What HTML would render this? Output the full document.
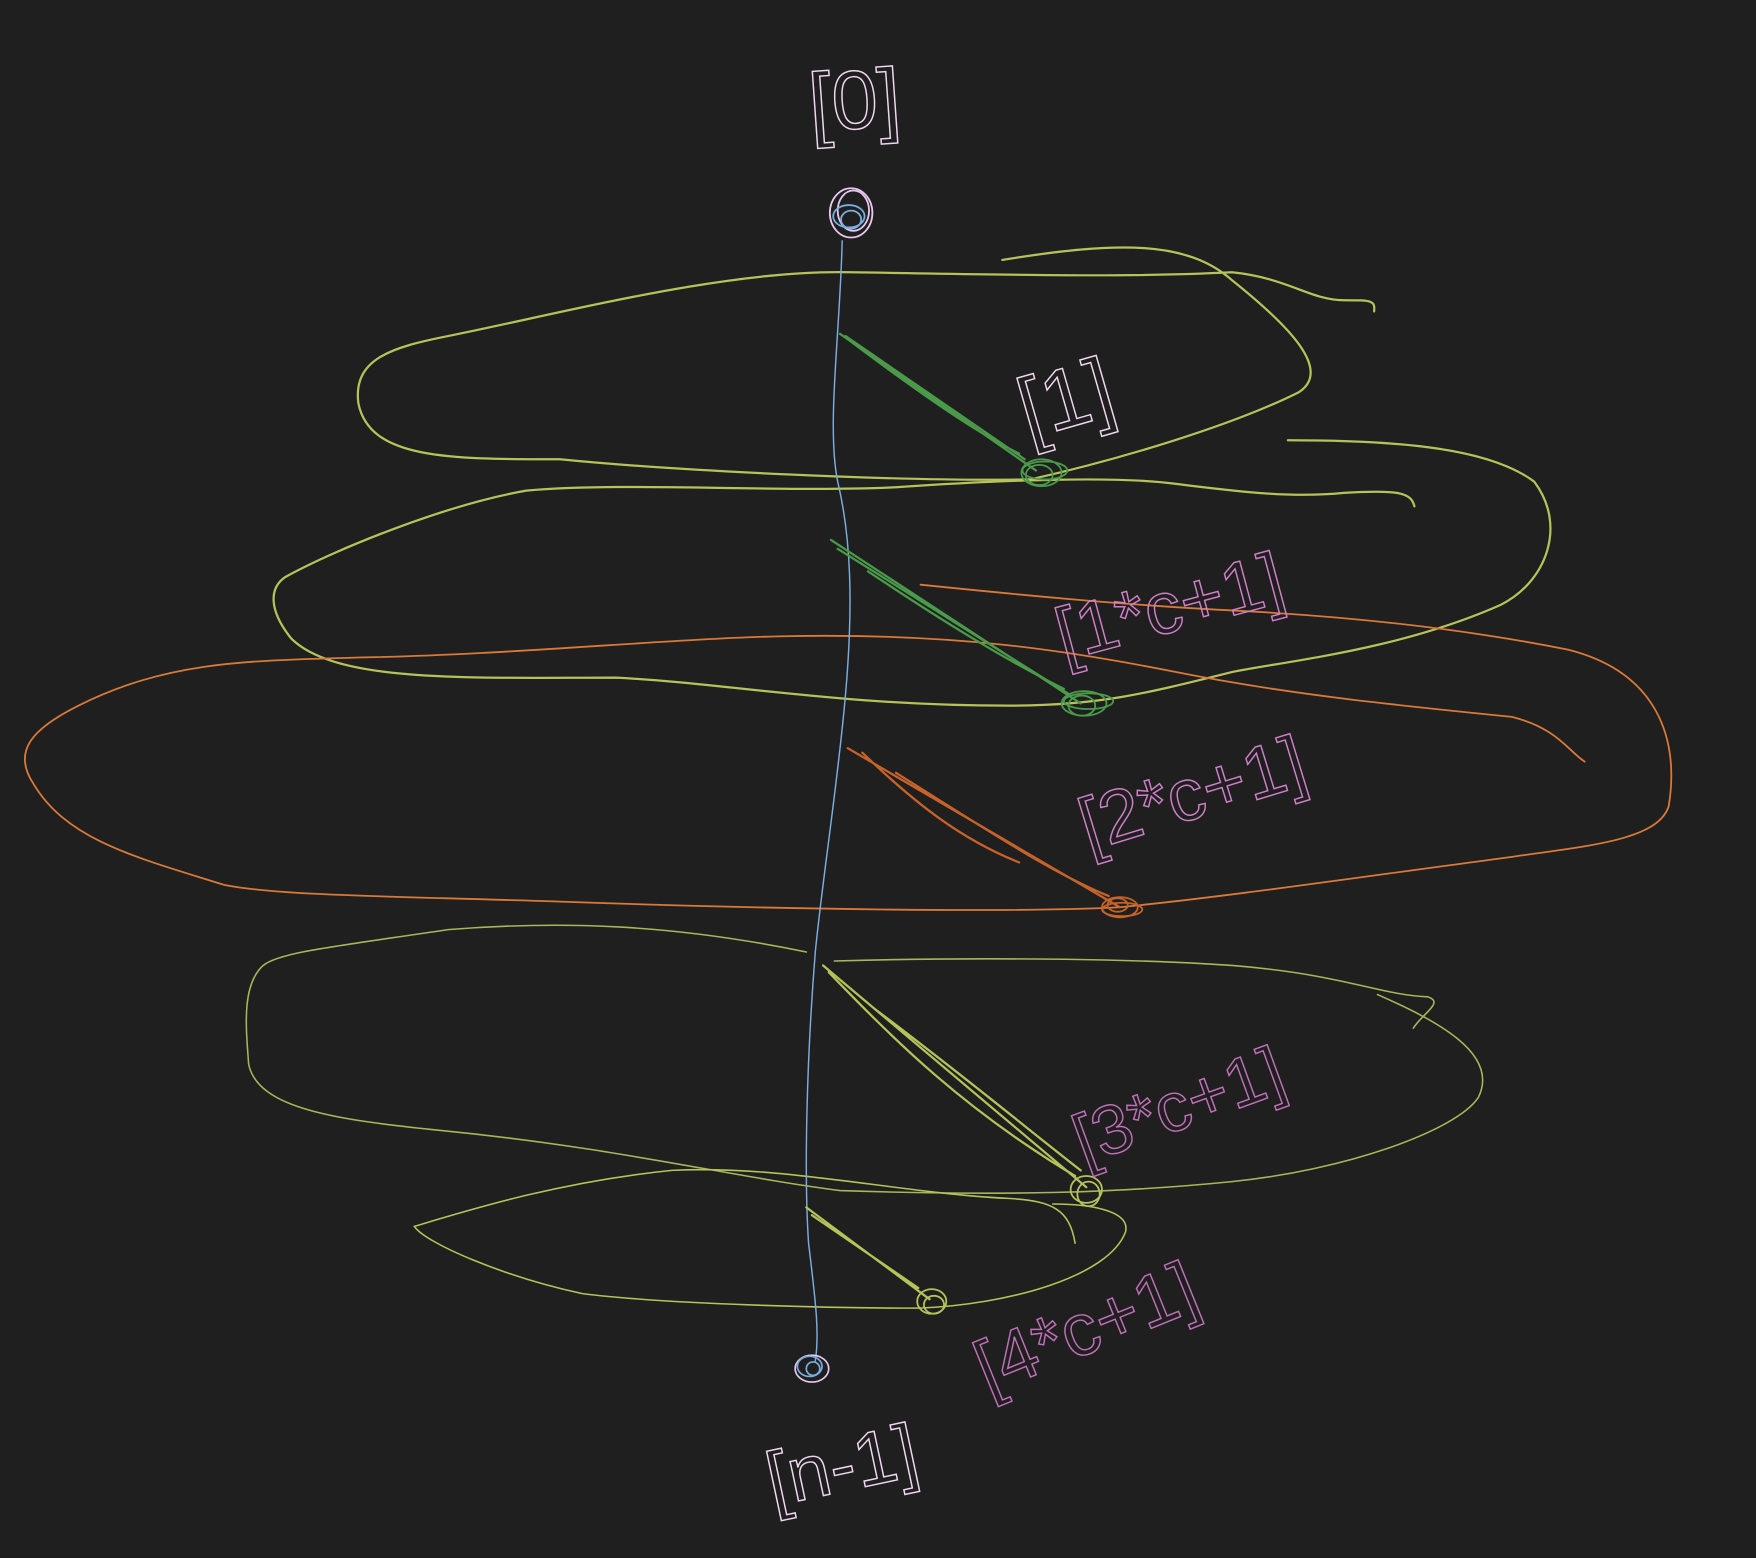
<!DOCTYPE html>
<html><head><meta charset="utf-8"><style>
html,body{margin:0;padding:0;background:#1f1f1f;}
svg{display:block}
.lbl{font-family:"Liberation Sans",sans-serif;font-weight:300;fill:none;stroke-width:1.3}
</style></head><body>
<svg width="1756" height="1558" viewBox="0 0 1568 1391" xmlns="http://www.w3.org/2000/svg">
<rect width="1568" height="1391" fill="#1f1f1f"/>
<g fill="none" stroke-linecap="round">
<path stroke="#b5c35a" stroke-width="2" d="M895,232 C1000,215 1060,215 1100,250 C1150,290 1190,330 1160,350 C1100,380 1000,410 920,428 C800,430 600,420 500,410 C400,410 330,410 320,360 C315,320 350,310 400,300 C500,280 650,240 760,243 C900,245 1000,248 1100,243 C1150,248 1170,268 1200,268 C1225,268 1228,268 1227,278"/>
<path stroke="#b5c35a" stroke-width="2" d="M1150,393 C1250,393 1330,400 1370,430 C1400,470 1380,520 1340,540 C1250,580 1150,590 1100,600 C1020,620 980,630 900,630 C750,630 650,610 550,605 C420,605 300,610 260,570 C240,545 240,525 255,515 C300,490 400,450 470,438 C560,430 700,440 800,435 C900,428 1000,425 1050,432 C1100,438 1150,445 1200,440 C1250,437 1260,440 1263,452"/>
<path stroke="#d9793a" stroke-width="1.6" d="M822,522 C900,530 1000,540 1100,545 C1200,550 1300,560 1400,580 C1480,600 1500,660 1490,720 C1480,750 1420,755 1350,765 C1200,785 1100,800 1000,810 C900,815 700,812 500,805 C350,800 250,800 200,790 C120,765 60,750 30,700 C10,670 30,650 70,630 C150,590 220,590 320,587 C450,585 600,570 700,568 C850,565 950,580 1050,600 C1150,620 1250,630 1350,640 C1390,650 1400,670 1415,680"/>
<path stroke="#a9b55a" stroke-width="1.4" d="M745,858 C850,855 1000,855 1100,862 C1200,870 1230,888 1275,890 C1290,895 1270,905 1262,918 M720,850 C600,825 500,822 400,830 C300,845 250,850 235,862 C215,880 220,920 222,950 C230,990 300,1000 400,1010 C550,1025 650,1050 750,1063 C900,1068 1000,1065 1100,1055 C1200,1045 1300,1010 1320,980 C1340,940 1280,910 1230,888"/>
<path stroke="#b5c35a" stroke-width="1.4" d="M960,1110 C955,1080 940,1072 900,1070 C800,1065 700,1040 600,1045 C500,1055 420,1080 370,1095 C380,1110 450,1140 520,1155 C600,1165 750,1168 820,1168 C900,1165 990,1140 1005,1100 C1010,1080 970,1075 940,1075"/>
<path stroke="#7aaee0" stroke-width="1.3" d="M752,215 C750,300 738,380 748,430 C760,480 762,540 755,620 C748,700 735,780 728,850 C720,950 718,1050 722,1110 C728,1160 732,1190 728,1215"/>
<path stroke="#4a9a4a" stroke-width="2" d="M750,298 L925,420 M755,300 L915,410 M760,305 C820,350 870,385 910,405"/>
<path stroke="#4a9a4a" stroke-width="2" d="M742,482 L965,628 M748,490 L955,620 M775,510 C850,560 900,590 950,615"/>
<path stroke="#c7632a" stroke-width="2" d="M757,668 L1000,810 M770,672 C820,720 860,750 910,770 M800,690 C880,740 940,780 990,800"/>
<path stroke="#b5c35a" stroke-width="2" d="M735,862 L970,1060 M740,868 C800,930 860,990 960,1050 M780,900 C860,960 920,1010 965,1045"/>
<path stroke="#b5c35a" stroke-width="2" d="M720,1078 L830,1160 M725,1085 L820,1150"/>
<g stroke="#4a9a4a" stroke-width="1.6"><ellipse cx="930" cy="422" rx="18" ry="12"/><ellipse cx="928" cy="424" rx="12" ry="9"/><ellipse cx="933" cy="420" rx="20" ry="8"/></g>
<g stroke="#4a9a4a" stroke-width="1.6"><ellipse cx="968" cy="628" rx="20" ry="11"/><ellipse cx="966" cy="630" rx="12" ry="9"/><ellipse cx="972" cy="626" rx="22" ry="7"/></g>
<g stroke="#c7632a" stroke-width="1.6"><ellipse cx="1000" cy="810" rx="16" ry="9"/><ellipse cx="1002" cy="812" rx="18" ry="6"/><ellipse cx="998" cy="808" rx="9" ry="6"/></g>
<g stroke="#b5c35a" stroke-width="1.6"><ellipse cx="970" cy="1062" rx="14" ry="12"/><ellipse cx="972" cy="1066" rx="10" ry="11"/></g>
<g stroke="#b5c35a" stroke-width="1.6"><ellipse cx="832" cy="1162" rx="13" ry="11"/><ellipse cx="834" cy="1165" rx="9" ry="8"/></g>
<g stroke-width="1.6"><ellipse cx="760" cy="190" rx="19" ry="22" stroke="#e8c8ee"/><ellipse cx="762" cy="188" rx="14" ry="18" stroke="#e8c8ee"/><ellipse cx="758" cy="193" rx="14" ry="10" stroke="#7aaee0"/><ellipse cx="760" cy="196" rx="9" ry="8" stroke="#7aaee0"/></g>
<g stroke-width="1.5"><ellipse cx="725" cy="1222" rx="15" ry="12" stroke="#e8c8ee"/><ellipse cx="723" cy="1220" rx="11" ry="9" stroke="#7aaee0"/><circle cx="726" cy="1222" r="6" stroke="#7aaee0"/></g>
</g>
<text class="lbl" x="722" y="115" font-size="74" stroke="#f0d8f0" transform="rotate(-4 760 90)">[0]</text>
<text class="lbl" x="918" y="392" font-size="76" stroke="#f0d8f0" transform="rotate(-16 918 392)">[1]</text>
<text class="lbl" x="950" y="590" font-size="66" stroke="#d080c8" transform="rotate(-15 950 590)">[1*c+1]</text>
<text class="lbl" x="972" y="760" font-size="66" stroke="#d080c8" transform="rotate(-17 972 760)">[2*c+1]</text>
<text class="lbl" x="968" y="1040" font-size="62" stroke="#c070b8" transform="rotate(-20 968 1040)">[3*c+1]</text>
<text class="lbl" x="882" y="1245" font-size="66" stroke="#c070b8" transform="rotate(-22 882 1245)">[4*c+1]</text>
<text class="lbl" x="690" y="1345" font-size="68" stroke="#f0d8f0" transform="rotate(-12 690 1345)">[n-1]</text>
</svg>
</body></html>
